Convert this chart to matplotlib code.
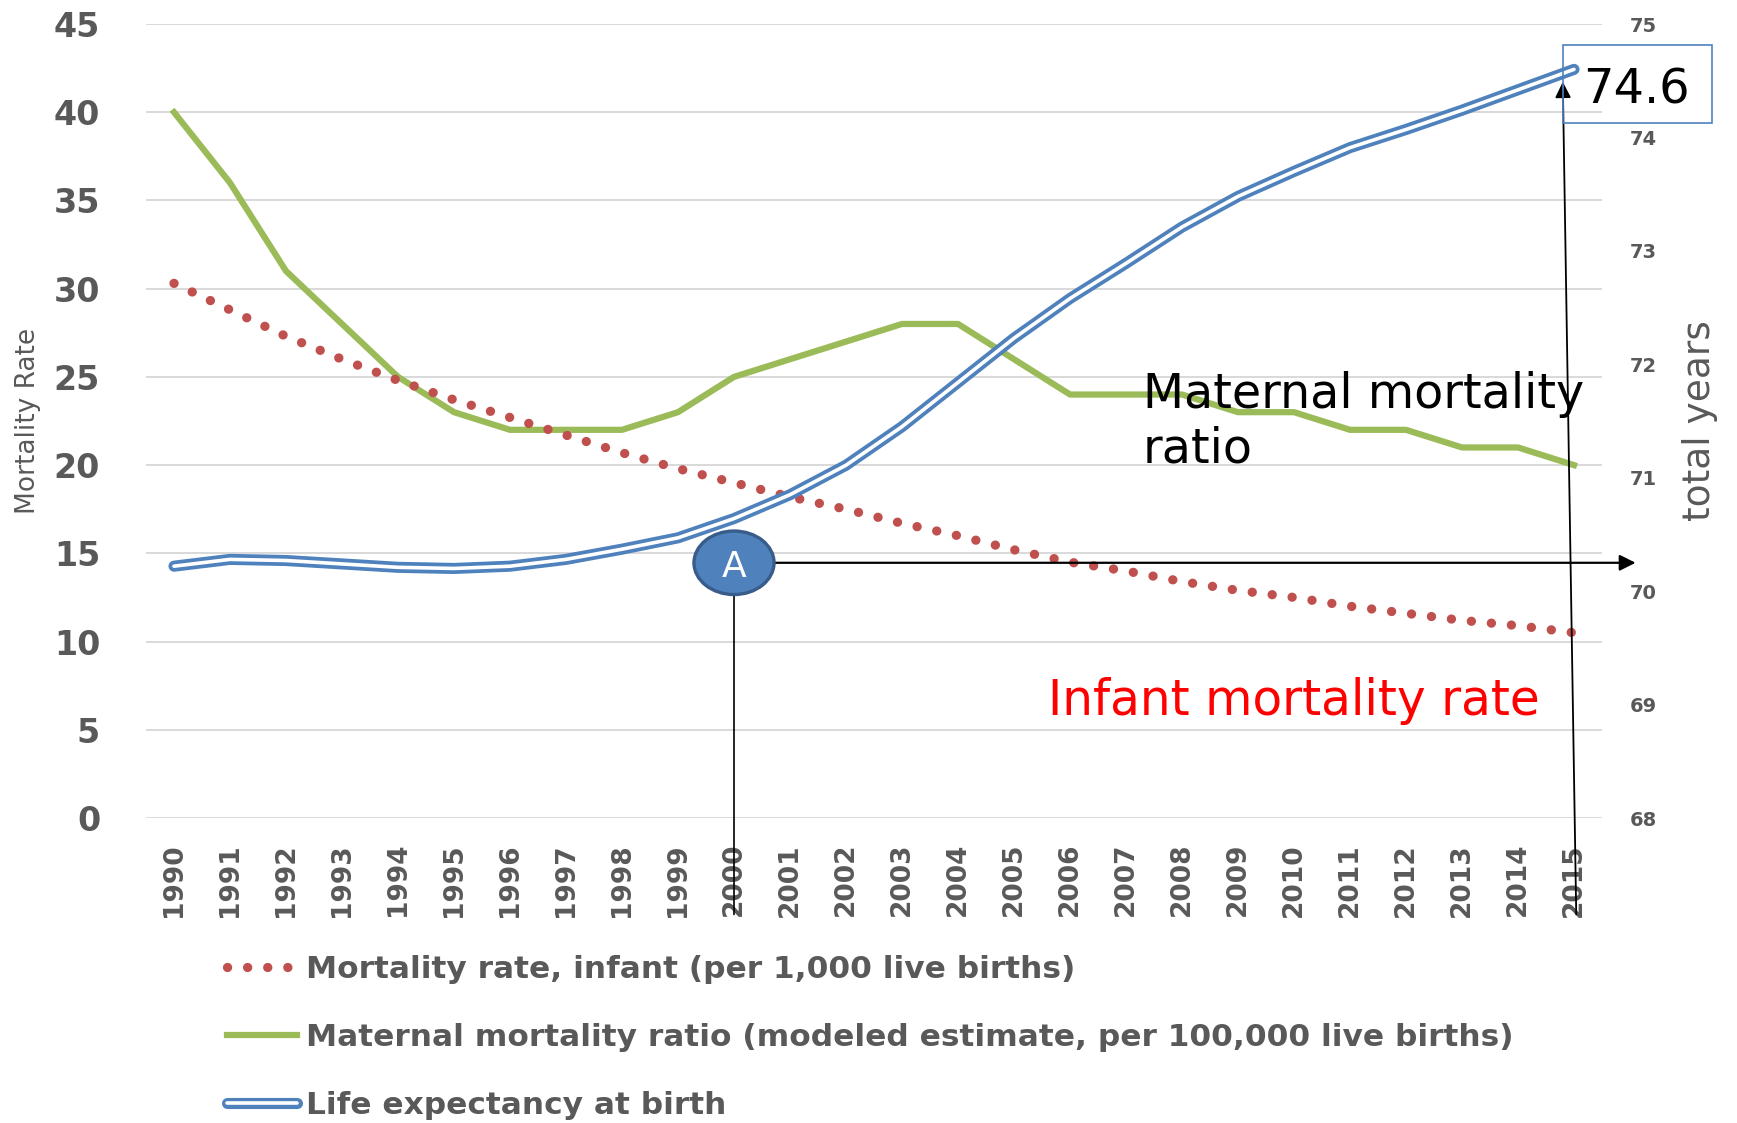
import matplotlib
matplotlib.use('Agg')
import numpy as np
import matplotlib.pyplot as plt
from matplotlib.patches import Ellipse, Rectangle
import matplotlib.patheffects as pe

# ---------------- data ----------------
years = [str(y) for y in range(1990, 2016)]
infant_mortality = [30.3, 28.8, 27.3, 26.0, 24.8, 23.7, 22.7, 21.7, 20.7, 19.8,
                    19.0, 18.2, 17.5, 16.7, 16.0, 15.2, 14.5, 14.0, 13.4, 12.9,
                    12.5, 12.0, 11.6, 11.2, 10.9, 10.5]
maternal_mortality = [40, 36, 31, 28, 25, 23, 22, 22, 22, 23,
                      25, 26, 27, 28, 28, 26, 24, 24, 24, 23,
                      23, 22, 22, 21, 21, 20]
life_expectancy = [70.22, 70.28, 70.27, 70.24, 70.21, 70.20, 70.22, 70.28, 70.37, 70.47,
                   70.64, 70.85, 71.11, 71.45, 71.84, 72.23, 72.58, 72.89, 73.21, 73.48,
                   73.70, 73.91, 74.07, 74.24, 74.42, 74.60]
left_ticks = list(range(0, 46, 5))
right_ticks = list(range(68, 76))
legend_labels = ["Mortality rate, infant (per 1,000 live births)",
                 "Maternal mortality ratio (modeled estimate, per 100,000 live births)",
                 "Life expectancy at birth"]

GRAY = '#595959'
RED = '#C0504D'
GREEN = '#9BBB59'
BLUE = '#4F81BD'

W, H = 1737, 1123
fig = plt.figure(figsize=(W / 100, H / 100), dpi=100)
ax = fig.add_axes([146 / W, 1 - 818 / H, (1602 - 146) / W, (818 - 24) / H])
ax2 = ax.twinx()

x = np.arange(len(years))
ax.set_xlim(-0.5, len(years) - 0.5)
ax.set_ylim(0, 45)
ax2.set_ylim(68, 75)

for a in (ax, ax2):
    for s in a.spines.values():
        s.set_visible(False)

ax.set_yticks(left_ticks)
ax.grid(axis='y', color='#D9D9D9', lw=1.4)
ax.set_axisbelow(True)

l1, = ax.plot(x, infant_mortality, color=RED, lw=6.7, linestyle=(0, (0.01, 2.15)),
              dash_capstyle='round', label=legend_labels[0], zorder=3)
l2, = ax.plot(x, maternal_mortality, color=GREEN, lw=4.5, label=legend_labels[1], zorder=2)
l3, = ax2.plot(x, life_expectancy, color='white', lw=2.6, solid_capstyle='round',
               path_effects=[pe.Stroke(linewidth=8.0, foreground=BLUE, capstyle='round'), pe.Normal()],
               label=legend_labels[2])

ax.set_xticks(x)
ax.set_xticklabels(years, rotation=90, fontsize=19, fontweight='bold', color=GRAY)
ax.tick_params(axis='x', length=0, pad=18)
ax.tick_params(axis='y', length=0, pad=33, labelsize=24, labelcolor=GRAY)
for lbl in ax.get_yticklabels():
    lbl.set_fontweight('bold')

ax2.set_yticks(right_ticks)
ax2.tick_params(axis='y', length=0, pad=20, labelsize=14, labelcolor=GRAY)
for lbl in ax2.get_yticklabels():
    lbl.set_fontweight('bold')

fig.text(28 / W, 1 - 421 / H, 'Mortality Rate', rotation=90, ha='center', va='center',
         fontsize=19, color=GRAY)
fig.text(1700 / W, 1 - 421 / H, 'total years', rotation=90, ha='center', va='center',
         fontsize=27, color=GRAY)

# legend
fig.legend(handles=[l1, l2, l3], loc='upper left', bbox_to_anchor=(227 / W, 1 - 955 / H),
           frameon=False, prop={'size': 22.5, 'weight': 'bold'}, labelcolor=GRAY,
           handlelength=2.25, handletextpad=0.28, labelspacing=1.24,
           borderpad=0, borderaxespad=0)

# annotations
ax2.add_patch(Ellipse((10, 70.25), 1.43, 0.56, facecolor=BLUE, edgecolor='#385D8A',
                      lw=2.4, zorder=10, clip_on=False))
ax2.text(10, 70.125, 'A', color='white', fontsize=26, ha='center', va='baseline', zorder=11)
arrow_kw = dict(arrowstyle='-|>', color='black', lw=1.6, mutation_scale=24,
                shrinkA=0, shrinkB=0)
ax2.annotate('', xy=(26.1, 70.25), xytext=(10.72, 70.25), arrowprops=arrow_kw,
             annotation_clip=False, zorder=9)
ax2.annotate('', xy=(10, 67.15), xytext=(10, 69.97),
             arrowprops=dict(arrowstyle='-', color='black', lw=1.2, shrinkA=0, shrinkB=0),
             annotation_clip=False, zorder=9)
ax2.annotate('', xy=(24.80, 74.49), xytext=(25.04, 67.15),
             arrowprops=dict(arrowstyle='-|>', color='black', lw=1.3, mutation_scale=24,
                             shrinkA=0, shrinkB=0),
             annotation_clip=False, zorder=9)

fig.patches.append(Rectangle((1563 / W, 1 - 123 / H), 149 / W, 78 / H, transform=fig.transFigure,
                             facecolor='none', edgecolor=BLUE, lw=1.2))
fig.text(1636 / W, 1 - 103 / H, '74.6', ha='center', va='baseline', fontsize=34.5, color='black')

fig.text(1143 / W, 1 - 408 / H, 'Maternal mortality', ha='left', va='baseline', fontsize=34.3,
         color='black')
fig.text(1143 / W, 1 - 463 / H, 'ratio', ha='left', va='baseline', fontsize=34.3, color='black')
fig.text(1048 / W, 1 - 715 / H, 'Infant mortality rate', ha='left', va='baseline', fontsize=35,
         color='#FF0000')

fig.savefig('out.png', dpi=100)
